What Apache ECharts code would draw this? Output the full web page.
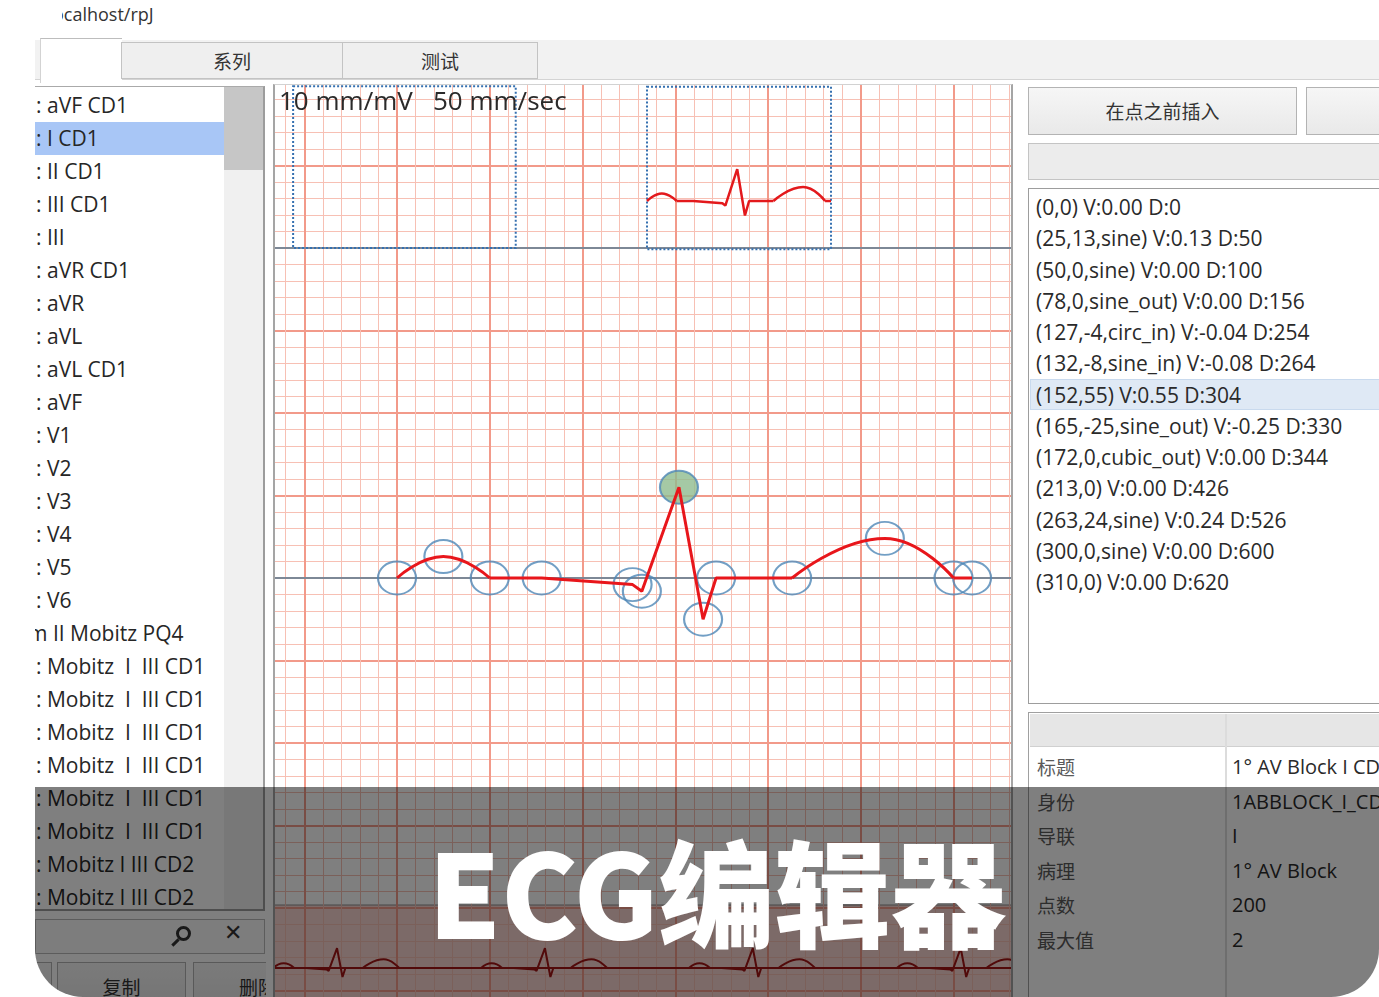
<!DOCTYPE html>
<html>
<head>
<meta charset="utf-8">
<script src="https://cdn.jsdelivr.net/npm/echarts/dist/echarts.min.js"></script>
<style>
html,body{margin:0;padding:0;width:1379px;height:997px;overflow:hidden;background:#fff;}
body{font-family:"Open Sans","Noto Sans CJK SC",sans-serif;color:#2e2e2e;}
.abs{position:absolute;box-sizing:border-box;}
#app{position:absolute;left:0;top:0;width:1379px;height:997px;background:#fff;
  clip-path:inset(0px 0px 0px 35px round 0px 0px 48px 48px);}
#url{position:absolute;left:62px;top:2px;width:140px;height:26px;overflow:hidden;font-size:18px;color:#333;white-space:nowrap;}
#url span{margin-left:-9px;}
.tab{position:absolute;top:42px;height:37px;background:#efefef;border:1px solid #c3c3c3;box-sizing:border-box;
  font-family:"Noto Sans CJK SC",sans-serif;font-size:19px;color:#333;text-align:center;line-height:35px;}
#left{position:absolute;left:0;top:0;width:1379px;height:997px;clip-path:inset(84px 1113px 0px 35px);}
.row{position:absolute;left:36px;height:33px;line-height:33px;font-size:21px;color:#262626;white-space:pre;}
.btn{position:absolute;background:linear-gradient(#f6f6f6,#e9e9e9);border:1px solid #b3b3b3;box-sizing:border-box;
  font-family:"Noto Sans CJK SC",sans-serif;font-size:19px;color:#333;text-align:center;}
#chartBox{position:absolute;left:275px;top:85px;width:737px;height:912px;overflow:hidden;background:#fff;}
#chart{position:absolute;left:-275px;top:-85px;width:1379px;height:1090px;}
#chartFrame{position:absolute;left:273px;top:84px;width:740px;height:913px;box-sizing:border-box;
  border-left:2px solid #a5a5a5;border-right:2px solid #a5a5a5;border-top:1px solid #d2d2d2;pointer-events:none;}
.prow{position:absolute;left:1036px;height:32px;line-height:32px;font-size:21px;color:#2a2a2a;white-space:nowrap;}
.pkey{position:absolute;left:1037px;height:34px;line-height:34px;font-size:19px;color:#5a5a5a;font-family:"Noto Sans CJK SC",sans-serif;}
.pval{position:absolute;left:1232px;height:34px;line-height:34px;font-size:20px;color:#2a2a2a;white-space:nowrap;}
#shade{position:absolute;left:35px;top:787px;width:1344px;height:210px;background:rgba(0,0,0,0.5);}
#banner{position:absolute;left:428px;top:830px;font-family:"Noto Sans CJK SC",sans-serif;font-weight:900;
  font-size:116px;line-height:117px;color:#fff;white-space:nowrap;}
</style>
</head>
<body>
<div id="app">
  <div id="url"></div>
  <div class="abs" style="left:35px;top:40px;width:1344px;height:40px;background:#f2f2f2;border-bottom:1px solid #d4d4d4;"></div>
  <div class="abs" style="left:40px;top:38px;width:82px;height:45px;background:#fff;border-top:1px solid #bdbdbd;border-left:1px solid #d3d3d3;"></div>
  <div id="tabs"></div>

  <div id="left">
    <div class="abs" style="left:35px;top:86px;width:230px;height:825px;background:#fff;border-top:1px solid #aaaaaa;border-right:2px solid #9c9c9c;border-bottom:2px solid #9c9c9c;"></div>
    <div class="abs" style="left:224px;top:87px;width:39px;height:822px;background:#f0f0f0;"></div>
    <div class="abs" style="left:224px;top:87px;width:39px;height:83px;background:#c6c6c6;"></div>
    <div id="selRow" class="abs" style="left:35px;width:189px;height:33px;background:#a8c6f6;"></div>
    <div id="rows"></div>
    <div class="abs" style="left:35px;top:919px;width:230px;height:35px;background:#fafafa;border:1px solid #b9b9b9;"></div>
    <div class="abs" style="left:176px;top:926px;width:15px;height:15px;border:3px solid #333;border-radius:50%;"></div>
    <div class="abs" style="left:171px;top:941px;width:9px;height:3px;background:#333;transform:rotate(-45deg);"></div>
    <div class="abs" style="left:224px;top:920px;font-family:'DejaVu Sans',sans-serif;font-weight:bold;font-size:22px;color:#333;">✕</div>
    <div id="lbtns"></div>
  </div>

  <div id="chartBox"><div id="chart"></div></div>
  <div id="chartFrame"></div>

  <div id="rbtns"></div>
  <div class="abs" style="left:1028px;top:143px;width:360px;height:37px;background:#ececec;border:1px solid #c4c4c4;"></div>
  <div class="abs" style="left:1028px;top:188px;width:360px;height:516px;background:#fff;border:1px solid #9d9d9d;"></div>
  <div id="pselRow" class="abs" style="left:1030px;width:360px;height:31px;background:#dfe9f5;border:1px solid #c9daee;"></div>
  <div id="plist"></div>
  <div class="abs" style="left:1028px;top:712px;width:360px;height:300px;background:#fff;border:1px solid #a0a0a0;"></div>
  <div class="abs" style="left:1030px;top:714px;width:360px;height:33px;background:#e6e6e6;border-bottom:1px solid #d0d0d0;"></div>
  <div class="abs" style="left:1225px;top:714px;width:2px;height:290px;background:#dcdcdc;"></div>
  <div id="props"></div>

  <div id="shade"></div>
  <div id="banner"></div>
</div>

<script>
// ---------------- data ----------------
const urlText = 'ocalhost/rpJ';
const tabLabels = ['系列', '测试'];
const seriesList = [': aVF CD1', ': I CD1', ': II CD1', ': III CD1', ': III', ': aVR CD1', ': aVR', ': aVL',
  ': aVL CD1', ': aVF', ': V1', ': V2', ': V3', ': V4', ': V5', ': V6', 'm II Mobitz PQ4',
  ': Mobitz  I  III CD1', ': Mobitz  I  III CD1', ': Mobitz  I  III CD1', ': Mobitz  I  III CD1',
  ': Mobitz  I  III CD1', ': Mobitz  I  III CD1', ': Mobitz I III CD2', ': Mobitz I III CD2'];
const selectedSeries = 1;
const leftButtons = ['', '复制', '删除'];
const rightButtons = ['在点之前插入', '在点之后插入'];
const scaleLabel = '10 mm/mV   50 mm/sec';

const pointX = [0, 25, 50, 78, 127, 132, 152, 165, 172, 213, 263, 300, 310];
const pointV = [0, 13, 0, 0, -4, -8, 55, -25, 0, 0, 24, 0, 0];
const pointEase = ['', 'sine', 'sine', 'sine_out', 'circ_in', 'sine_in', '', 'sine_out', 'cubic_out', '', 'sine', 'sine', ''];
const selectedPoint = 6;
const baselineLevels = [0, 200];
const frameA = [[-56, 298], [64, 200]];
const frameB = [[0, 197], [310, -83]];
const stripBeatStarts = [0, 495, 990, 1485];

const propKeys = ['标题', '身份', '导联', '病理', '点数', '最大值'];
const propValues = ['1° AV Block I CD1', '1ABBLOCK_I_CD1', 'I', '1° AV Block', '200', '2'];
const bannerText = 'ECG编辑器';

// ---------------- UI text ----------------
function el(parent, cls, style, text) {
  const d = document.createElement('div');
  if (cls) d.className = cls;
  d.style.cssText = style;
  if (text !== undefined) d.textContent = text;
  parent.appendChild(d);
  return d;
}
document.getElementById('url').innerHTML = '<span></span>';
document.querySelector('#url span').textContent = urlText;

const tabs = document.getElementById('tabs');
el(tabs, 'tab', 'left:121px;width:222px;', tabLabels[0]);
el(tabs, 'tab', 'left:342px;width:196px;', tabLabels[1]);

const rows = document.getElementById('rows');
document.getElementById('selRow').style.top = (88.5 + 33 * selectedSeries) + 'px';
seriesList.forEach((t, i) => {
  const r = el(rows, 'row', 'top:' + (88.5 + 33 * i) + 'px;', t);
  if (t.charAt(0) !== ':') r.style.left = '28px';
});
const lb = document.getElementById('lbtns');
el(lb, 'btn', 'left:16px;top:962px;width:36px;height:45px;line-height:44px;', leftButtons[0]);
el(lb, 'btn', 'left:57px;top:962px;width:129px;height:45px;line-height:44px;padding-top:2px;', leftButtons[1]);
el(lb, 'btn', 'left:193px;top:962px;width:130px;height:45px;line-height:44px;padding-top:2px;', leftButtons[2]);

const rb = document.getElementById('rbtns');
el(rb, 'btn', 'left:1028px;top:87px;width:269px;height:48px;line-height:46px;', rightButtons[0]);
el(rb, 'btn', 'left:1306px;top:87px;width:269px;height:48px;line-height:46px;', rightButtons[1]);

const plist = document.getElementById('plist');
document.getElementById('pselRow').style.top = (379 + 31.25 * (selectedPoint - 6)) + 'px';
pointX.forEach((x, i) => {
  const v = pointV[i], e = pointEase[i];
  const txt = '(' + x + ',' + v + (e ? ',' + e : '') + ') V:' + (v / 100).toFixed(2) + ' D:' + (x * 2);
  el(plist, 'prow', 'top:' + (191 + 31.25 * i) + 'px;', txt);
});

const props = document.getElementById('props');
propKeys.forEach((k, i) => {
  el(props, 'pkey', 'top:' + (750 + 34.6 * i) + 'px;', k);
  el(props, 'pval', 'top:' + (750 + 34.6 * i) + 'px;', propValues[i]);
});
document.getElementById('banner').textContent = bannerText;

// ---------------- chart ----------------
function buildSegments() {
  const segs = []; let cur = null;
  for (let i = 1; i < pointX.length; i++) {
    const sm = pointEase[i] === 'sine';
    if (!cur || cur.smooth !== sm) { cur = { smooth: sm, idx: [i - 1] }; segs.push(cur); }
    cur.idx.push(i);
  }
  return segs;
}
const segs = buildSegments();
const series = [];
const hiddenAxis = { show: false };

segs.forEach((s, k) => {
  const sr = {
    type: 'line', xAxisIndex: 0, yAxisIndex: 0, silent: true, symbol: 'none', z: 10,
    smooth: s.smooth ? 0.5 : false,
    data: s.idx.map(i => [pointX[i], pointV[i]]),
    lineStyle: { color: '#e8161b', width: 3 }
  };
  if (k === 0) {
    sr.markLine = {
      silent: true, z: 2, symbol: ['none', 'none'], label: { show: false },
      lineStyle: { color: '#7d8896', width: 2, type: 'solid' },
      data: baselineLevels.map(v => ({ yAxis: v }))
    };
    sr.markArea = {
      silent: true, z: 3,
      itemStyle: { color: 'rgba(0,0,0,0)', borderColor: '#3570b0', borderWidth: 2, borderType: 'dotted' },
      data: [[{ coord: frameA[0] }, { coord: frameA[1] }]]
    };
  }
  series.push(sr);
});

series.push({
  type: 'scatter', xAxisIndex: 0, yAxisIndex: 0, silent: true, z: 5,
  symbol: 'circle', symbolSize: [38, 33],
  itemStyle: { color: 'rgba(255,255,255,0)', borderColor: '#4f87b7', borderWidth: 2 },
  data: pointX.map((x, i) => i === selectedPoint
    ? { value: [x, pointV[i]], itemStyle: { color: '#8fbb8f', borderColor: '#4f87b7', borderWidth: 2 } }
    : { value: [x, pointV[i]] })
});

segs.forEach((s, k) => {
  const sr = {
    type: 'line', xAxisIndex: 1, yAxisIndex: 1, silent: true, symbol: 'none', z: 10,
    smooth: s.smooth ? 0.5 : false,
    data: s.idx.map(i => [pointX[i], pointV[i]]),
    lineStyle: { color: '#e3191c', width: 2.5 }
  };
  if (k === 0) {
    sr.markArea = {
      silent: true, z: 3,
      itemStyle: { color: 'rgba(0,0,0,0)', borderColor: '#3570b0', borderWidth: 2, borderType: 'dotted' },
      data: [[{ coord: frameB[0] }, { coord: frameB[1] }]]
    };
  }
  series.push(sr);
});

stripBeatStarts.forEach((b, bi) => {
  segs.forEach((s, k) => {
    const sr = {
      type: 'line', xAxisIndex: 2, yAxisIndex: 2, silent: true, symbol: 'none', z: 10,
      smooth: s.smooth ? 0.5 : false,
      data: s.idx.map(i => [pointX[i] + b, pointV[i]]),
      lineStyle: { color: '#a31414', width: 2 }
    };
    if (bi === 0 && k === 0) {
      sr.markLine = {
        silent: true, z: 4, symbol: ['none', 'none'], label: { show: false },
        lineStyle: { color: '#a31414', width: 2, type: 'solid' },
        data: [{ yAxis: baselineLevels[0] }]
      };
    }
    series.push(sr);
  });
});

const gridAxisStyle = {
  axisLine: { show: false }, axisTick: { show: false }, axisLabel: { show: false },
  splitLine: { show: true, lineStyle: { color: '#f29a8a', width: 2 } },
  minorTick: { show: false, splitNumber: 5 },
  minorSplitLine: { show: true, lineStyle: { color: '#f7c0b4', width: 1 } }
};

const option = {
  animation: false,
  backgroundColor: '#fff',
  title: {
    text: scaleLabel, left: 279, top: 90, padding: 0,
    textStyle: { fontSize: 26, fontWeight: 'normal', color: '#2a2a2a', fontFamily: 'Open Sans' }
  },
  grid: [
    { left: 211.5, top: 83, width: 834.75, height: 990 },
    { left: 647, top: 85, width: 184, height: 168.2 },
    { left: 273.2, top: 905, width: 756, height: 126, show: true,
      backgroundColor: 'rgba(240,160,150,0.45)', borderColor: '#8e8e8e', borderWidth: 1 }
  ],
  xAxis: [
    Object.assign({ gridIndex: 0, type: 'value', min: -100, max: 350, interval: 50 }, gridAxisStyle),
    Object.assign({ gridIndex: 1, type: 'value', min: 0, max: 310 }, hiddenAxis),
    Object.assign({ gridIndex: 2, type: 'value', min: 0, max: 1800 }, hiddenAxis)
  ],
  yAxis: [
    Object.assign({ gridIndex: 0, type: 'value', min: -300, max: 300, interval: 50 }, gridAxisStyle),
    Object.assign({ gridIndex: 1, type: 'value', min: -90, max: 200 }, hiddenAxis),
    Object.assign({ gridIndex: 2, type: 'value', min: -175, max: 175 }, hiddenAxis)
  ],
  series: series
};
const chart = echarts.init(document.getElementById('chart'));
chart.setOption(option);
</script>
</body>
</html>
